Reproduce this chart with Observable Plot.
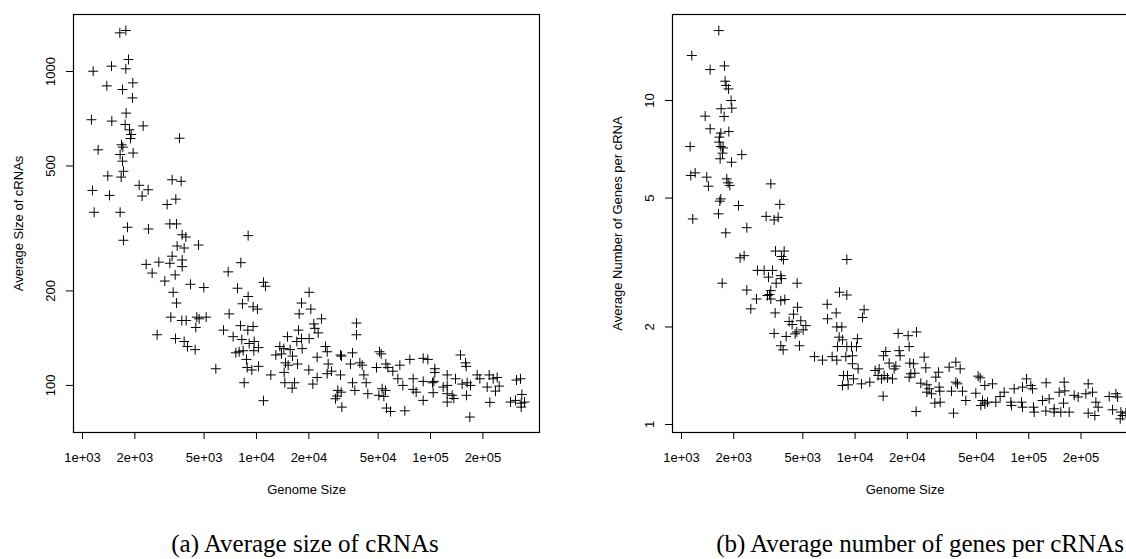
<!DOCTYPE html>
<html>
<head>
<meta charset="utf-8">
<script src="https://cdn.jsdelivr.net/npm/d3@7"></script>
<script src="https://cdn.jsdelivr.net/npm/@observablehq/plot@0.6"></script>
<style>
  html, body { margin: 0; padding: 0; background: #fff; }
  body { width: 1126px; height: 559px; overflow: hidden; position: relative; }
  .panel { position: absolute; top: 0; }
  .panel svg { max-width: none !important; display: block; }
  .caption {
    position: absolute; top: 530px; white-space: nowrap;
    font-family: "Liberation Serif", "Times New Roman", serif; font-size: 25px; color: #000;
    transform: translateX(-50%);
  }
</style>
</head>
<body>
<div id="a" class="panel" style="left:0px; width:563px"></div>
<div id="b" class="panel" style="left:563px; width:600px"></div>
<div class="caption" style="left:305px">(a) Average size of cRNAs</div>
<div class="caption" style="left:920px">(b) Average number of genes per cRNAs</div>
<script>
// Shared genome-size axis
const xTicks = [1000, 2000, 5000, 10000, 20000, 50000, 100000, 200000];
const xTickLabels = ["1e+03", "2e+03", "5e+03", "1e+04", "2e+04", "5e+04", "1e+05", "2e+05"];
const xDomain = [888, 423000];
const xTitle = "Genome Size";

// (a) average size of cRNAs by genome size
const genomeA = [
  1639, 1775, 1838, 1775, 1152, 1468, 1947, 1380, 1698, 1938, 1782, 1126, 1474, 1759, 2232, 1863,
  1904, 1887, 3610, 1676, 1230, 1705, 1646, 1955, 1698, 1720, 1398, 1668, 2117, 2385, 2202, 1141,
  1430, 3276, 3690, 3439, 3066, 1167, 1646,
  1720, 1814, 2395, 3177, 3469, 3740, 3926, 3500, 3840, 4642, 8955, 2322, 2746, 2514, 3177, 3276,
  3740, 3740, 2973, 3409, 4176, 4981, 3320, 3469, 6876, 8128, 7778, 8955, 10970, 11265, 8309, 9568,
  10132, 6967, 3218, 3723, 3943, 4540, 4683, 5137, 4480, 2686, 3424, 3840, 4013, 4441, 6461, 7342,
  8091, 8915, 9568, 8236, 9076, 9696, 7950, 7607, 8383, 9654, 10268, 8760, 8840, 9401, 10268, 5838,
  8494, 10970, 12088,
  20074, 18142, 20524, 17590, 21353, 23634, 21636, 22614, 17434, 15075, 17055, 18142, 20074, 13620,
  14360, 15613, 18302, 12915, 13923, 16106, 14678, 15206, 17208, 14425, 14550, 16537, 16030, 19987,
  22319, 24929, 25480, 25820, 26980, 25480, 22319, 21074, 30390, 30790, 35620, 30390, 34690, 39260,
  40490, 41390, 35620, 42690, 36740, 29340, 30660, 28440, 29080, 30940, 43630, 37560, 37560, 50920,
  52060, 48940, 55390, 56870, 60730, 66650, 76070, 90780, 96540, 105900, 105900, 104500, 64910,
  69340, 79520, 79520, 82720, 90780, 102700, 103600, 90780, 52750, 55130, 50480, 53930, 55860,
  58890, 71200, 124700, 139200, 124700, 118250, 124700, 133200, 136200, 124700, 148700, 158900,
  160300, 152000, 162400, 169800, 161000, 168300, 185400, 192100, 217400, 229200, 241600, 211700,
  248100, 236300, 219300, 288300, 307900, 332000, 334900, 329000, 312100, 332000, 346900
];
const sizeA = [
  1328, 1351, 1092, 1020, 1002, 1040, 920, 900, 876, 824, 737, 702, 695, 678, 671, 652,
  630, 612, 613, 584, 563, 574, 544, 550, 518, 481, 465, 461, 434, 420, 401, 418,
  403, 452, 447, 392, 377, 356, 356,
  290, 319, 315, 327, 327, 302, 297, 278, 274, 280, 300, 243, 247, 228, 245, 258,
  251, 239, 215, 225, 210, 205, 198, 183, 230, 246, 204, 192, 213, 207, 182, 178,
  175, 169, 165, 161, 161, 165, 163, 165, 153, 145, 141, 138, 133, 130, 150, 143,
  155, 150, 154, 140, 136, 138, 128, 127, 129, 129, 132, 121, 114, 112, 115, 113,
  102, 89.4, 108,
  198, 183, 175, 169, 157, 163, 152, 147, 150, 143, 138, 141, 141, 133,
  131, 130, 131, 125, 126, 124, 118, 116, 117, 110, 102, 102, 98, 112,
  123, 133, 128, 117, 111, 109, 106, 101, 125, 124, 127, 108, 117, 118,
  116, 108, 102, 102, 96.4, 96.4, 95.2, 90.7, 92.5, 85.3, 94.1, 158, 145, 128,
  126, 114, 117, 114, 111, 116, 121, 122, 121, 113, 110, 103, 105,
  100, 105, 97.1, 95.2, 103, 102, 94.8, 89.6, 97.6, 96.4, 93, 92.3, 84.7,
  82.6, 83, 108, 105, 100, 98.8, 94.1, 93, 90.9, 88.5, 125, 118,
  115, 101, 102, 100, 93, 79.3, 108, 105, 108, 105, 106, 98.8,
  99.5, 95.9, 88.3, 88.5, 89.6, 87.8, 93.6, 105, 104, 85.3, 88.5
];

// (b) average number of genes per cRNA by genome size
const genomeB = [
  1641, 1147, 1463, 1769, 1785, 1808, 1865, 1932, 1692, 1950, 1761, 1369, 1463, 1685, 1874, 1655,
  1648, 1685, 1738, 1122, 2226, 1723, 1670, 1941, 1199, 1132, 1399, 1430, 1824, 1857, 1899, 3271,
  1685, 1663, 2130, 3684, 1162, 1634, 3074, 3418, 3604,
  1800, 2379, 2177, 2296, 3479, 3903, 3767, 3868, 1716, 2379, 2704, 2508, 2741, 2994, 3344, 3171,
  3734, 3767, 3510, 4638, 3271, 3213, 3271, 3129, 3734, 3938, 3464, 3418, 4008, 3734, 3851, 4783,
  4171, 4417, 4659, 4339, 4868, 5202, 4618, 5021, 4516, 5836, 6490, 7378, 7848, 6906, 7780, 6934,
  8131, 7848, 8095, 7919,
  8960, 8960, 11270, 11025, 8383, 8457, 10318, 8960, 9530, 10183, 8843, 9658, 9658, 10411, 8570,
  9036, 9786, 8457, 9118, 10880, 12153, 14507, 17700, 20204, 22570, 20475, 17935, 18170, 14570,
  15030, 15710, 17160, 16785, 13045, 13755, 13575, 14700, 15365, 16420, 14185, 20655, 21680, 20930,
  22070, 20475, 24990, 25550, 23900, 25890, 26700, 25890, 27540, 29170, 30220, 30490, 30760, 28790,
  30900, 22470, 34810, 38030, 40290, 38030, 38880, 35910, 41550, 43420, 36870, 51130, 52510, 55860,
  61840, 49580, 54160, 55860, 57880, 52980, 64630, 68450, 72210, 78880, 82450, 92060, 97080, 102800,
  105100, 90850, 79580, 92060, 106500, 107500, 120000, 125500, 131100, 126000, 140100, 140100,
  153000, 160000, 149700, 161400, 158600, 171000, 182700, 192600, 213300, 220000, 233000, 243500,
  251200, 220000, 240300, 290700, 303800, 317600, 324700, 339400, 346900, 362600, 336400
];
const genesB = [
  16.44, 13.77, 12.46, 12.79, 11.47, 11.13, 10.86, 10.0, 9.43, 9.47, 8.93, 8.95, 8.18, 7.93, 8.02, 7.71,
  7.44, 7.21, 7.14, 7.21, 6.81, 6.88, 6.61, 6.45, 5.98, 5.87, 5.80, 5.44, 5.73, 5.57, 5.47, 5.53,
  4.97, 4.89, 4.74, 4.78, 4.31, 4.47, 4.39, 4.28, 4.36,
  3.905, 4.05, 3.27, 3.32, 3.43, 3.43, 3.30, 3.23, 2.73, 2.60, 2.44, 2.275, 2.99, 2.99, 2.99, 2.85,
  2.88, 2.82, 2.73, 2.73, 2.59, 2.52, 2.44, 2.50, 2.41, 2.43, 2.21, 1.91, 1.87, 1.75, 1.70, 1.75,
  2.08, 2.19, 2.30, 2.035, 2.09, 2.02, 1.93, 1.96, 1.905, 1.62, 1.58, 1.62, 1.58, 2.35, 2.21, 2.12,
  2.56, 2.00, 1.86, 1.74,
  3.23, 2.51, 2.26, 2.14, 2.00, 1.825, 1.84, 1.74, 1.74, 1.74, 1.62, 1.63, 1.54, 1.485, 1.416,
  1.416, 1.383, 1.32, 1.326, 1.335, 1.351, 1.223, 1.91, 1.88, 1.93, 1.74, 1.69, 1.63, 1.63,
  1.68, 1.547, 1.514, 1.485, 1.468, 1.485, 1.416, 1.416, 1.393, 1.383, 1.383, 1.547, 1.54, 1.434,
  1.44, 1.40, 1.614, 1.496, 1.341, 1.326, 1.289, 1.258, 1.244, 1.40, 1.45, 1.304, 1.267, 1.164,
  1.172, 1.097, 1.503, 1.557, 1.485, 1.351, 1.335, 1.267, 1.267, 1.186, 1.084, 1.41, 1.393, 1.32,
  1.335, 1.249, 1.186, 1.158, 1.172, 1.145, 1.172, 1.22, 1.258, 1.172, 1.289, 1.304, 1.383, 1.32,
  1.289, 1.172, 1.145, 1.131, 1.131, 1.092, 1.186, 1.10, 1.20, 1.345, 1.118, 1.092,
  1.092, 1.351, 1.258, 1.27, 1.164, 1.092, 1.23, 1.216, 1.244, 1.335, 1.258, 1.172,
  1.131, 1.084, 1.066, 1.22, 1.11, 1.244, 1.216, 1.092, 1.066, 1.084, 1.041
];

const panelA = {
  genome: genomeA, values: sizeA,
  yDomain: [70.8, 1519],
  yTicks: [100, 200, 500, 1000],
  yTickLabels: ["100", "200", "500", "1000"],
  yTitle: "Average Size of cRNAs",
  width: 563, marginLeft: 73, marginRight: 24
};
const panelB = {
  genome: genomeB, values: genesB,
  yDomain: [0.9447, 18.43],
  yTicks: [1, 2, 5, 10],
  yTickLabels: ["1", "2", "5", "10"],
  yTitle: "Average Number of Genes per cRNA",
  width: 600, marginLeft: 109, marginRight: 26
};

const H = 505, FRAME_TOP = 14, FRAME_BOTTOM = 432;

function scatter(p) {
  const points = p.genome.map((g, i) => ({genome: g, value: p.values[i]}));
  const xLabel = new Map(xTicks.map((t, i) => [t, xTickLabels[i]]));
  const yLabel = new Map(p.yTicks.map((t, i) => [t, p.yTickLabels[i]]));
  return Plot.plot({
    width: p.width,
    height: H,
    marginTop: FRAME_TOP,
    marginBottom: H - FRAME_BOTTOM,
    marginLeft: p.marginLeft,
    marginRight: p.marginRight,
    style: {fontFamily: "'Liberation Sans', Arial, sans-serif", fontSize: "13px", color: "#000", background: "#fff", overflow: "visible"},
    x: {type: "log", domain: xDomain},
    y: {type: "log", domain: p.yDomain},
    marks: [
      Plot.dot(points, {x: "genome", y: "value", symbol: "plus", r: 3.3, stroke: "#000", strokeWidth: 1}),
      Plot.frame({stroke: "#000", strokeWidth: 1.2}),
      // tick marks only; the labels are drawn as text so that every one shows
      Plot.axisX({ticks: xTicks, tickSize: 7, tickFormat: () => "", label: null, strokeWidth: 1}),
      Plot.axisY({ticks: p.yTicks, tickSize: 7, tickFormat: () => "", label: null, strokeWidth: 1}),
      Plot.text(xTicks, {x: d => d, text: d => xLabel.get(d), frameAnchor: "bottom", dy: 25, lineAnchor: "middle", textAnchor: "middle"}),
      Plot.text(p.yTicks, {y: d => d, text: d => yLabel.get(d), frameAnchor: "left", dx: -23, rotate: -90, lineAnchor: "middle", textAnchor: "middle"}),
      Plot.text([xTitle], {text: d => d, frameAnchor: "bottom", dy: 57, lineAnchor: "middle", textAnchor: "middle"}),
      Plot.text([p.yTitle], {text: d => d, frameAnchor: "left", dx: -55, rotate: -90, lineAnchor: "middle", textAnchor: "middle"})
    ]
  });
}

document.getElementById("a").append(scatter(panelA));
document.getElementById("b").append(scatter(panelB));
</script>
</body>
</html>
